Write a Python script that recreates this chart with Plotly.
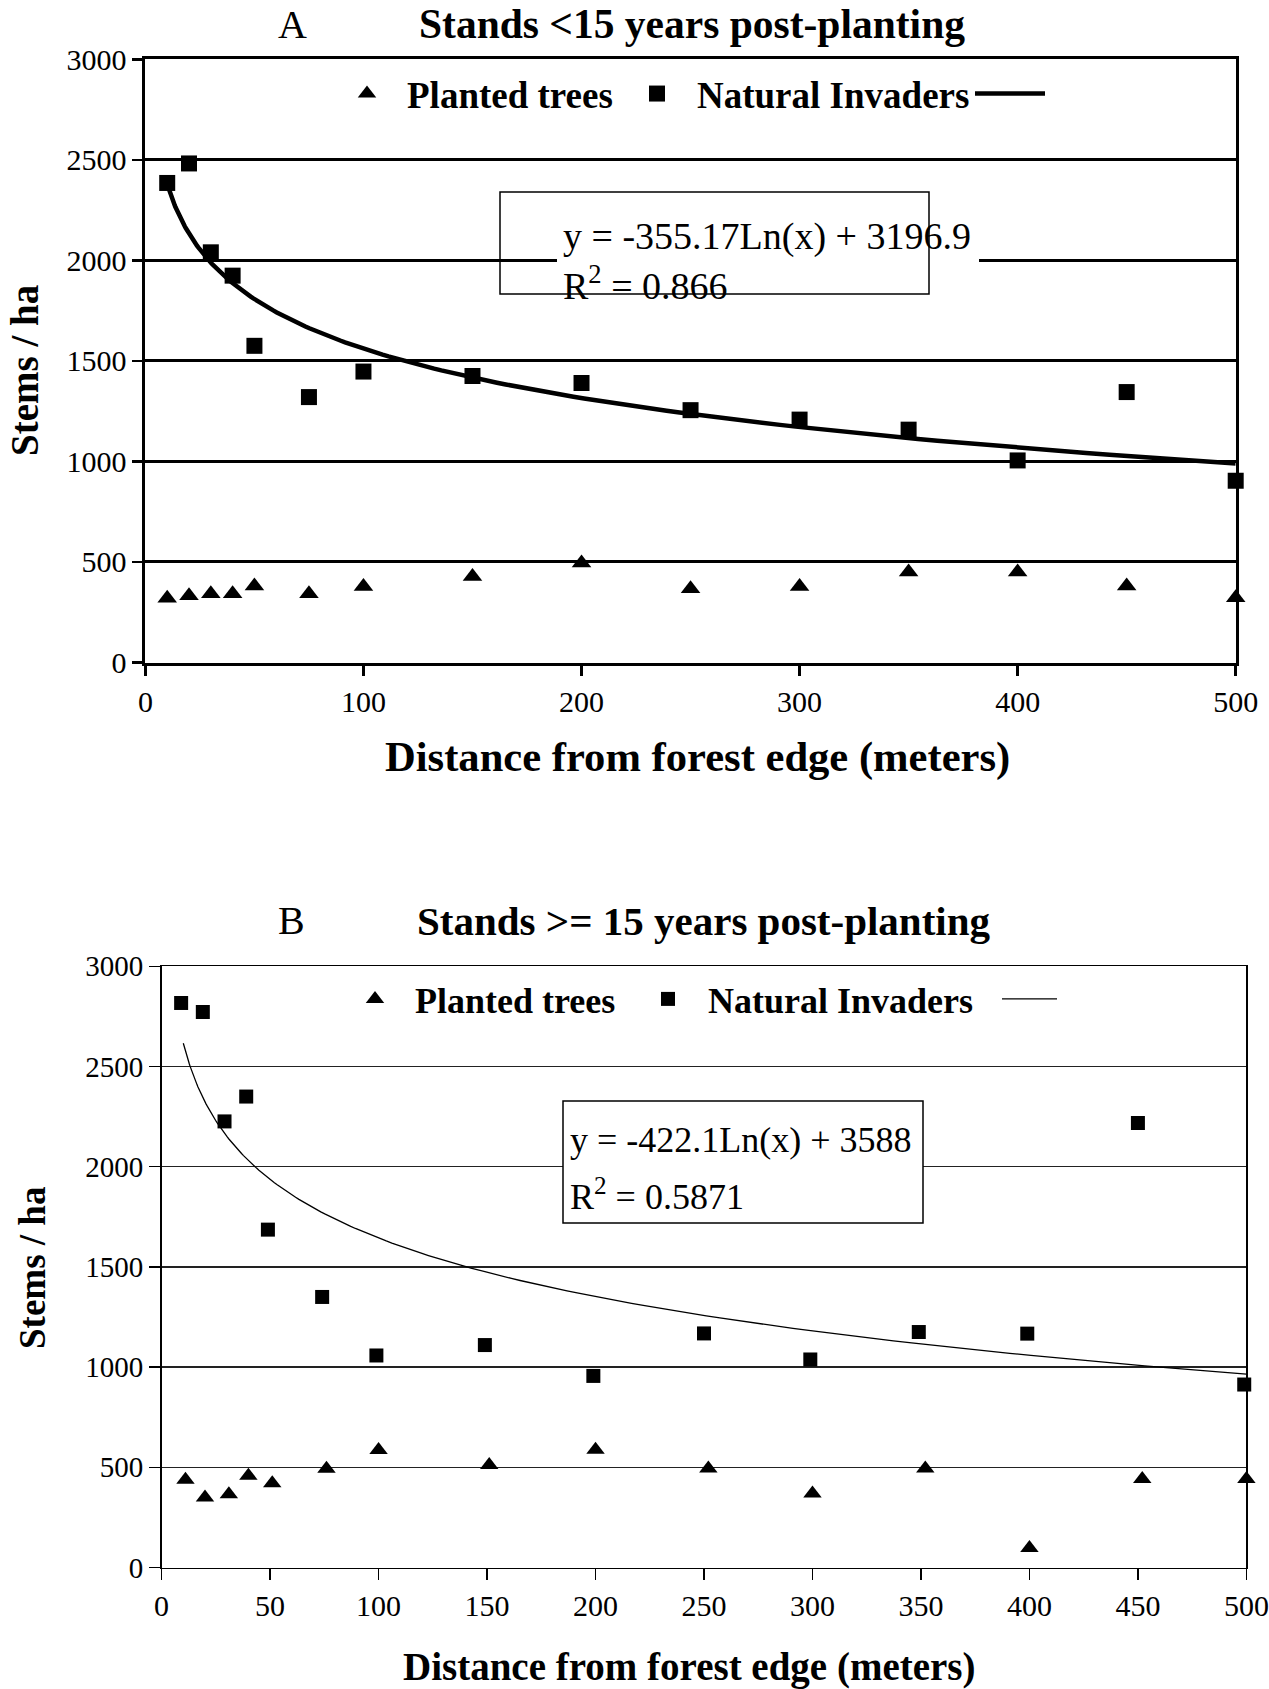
import numpy as np
import plotly.graph_objects as go

# ---------------- data ----------------
dist_a = [10, 20, 30, 40, 50, 75, 100, 150, 200, 250, 300, 350, 400, 450, 500]
invaders_a = [2385, 2482, 2040, 1924, 1575, 1320, 1447, 1425, 1390, 1255, 1208, 1158, 1005, 1345, 904]
planted_a = [320, 332, 342, 342, 380, 342, 378, 428, 495, 367, 378, 450, 450, 380, 322]

dist_b_inv = [9, 19, 29, 39, 49, 74, 99, 149, 199, 250, 299, 349, 399, 450, 499]
invaders_b = [2817, 2772, 2226, 2350, 1686, 1350, 1058, 1110, 956, 1168, 1038, 1175, 1167, 2218, 913]
dist_b_pl = [11, 20, 31, 40, 51, 76, 100, 151, 200, 252, 300, 352, 400, 452, 500]
planted_b = [438, 349, 366, 458, 420, 493, 586, 512, 587, 494, 369, 494, 97, 441, 441]

# trendline equations shown on the chart: y = slope*Ln(x) + intercept
trend_a_slope, trend_a_intercept = -355.17, 3196.9
trend_b_slope, trend_b_intercept = -422.1, 3588.0
trend_a_label = ["y = -355.17Ln(x) + 3196.9", "R<sup>2</sup> = 0.866"]
trend_b_label = ["y = -422.1Ln(x) + 3588", "R<sup>2</sup> = 0.5871"]

x_ticks_a = [0, 100, 200, 300, 400, 500]
x_ticks_b = [0, 50, 100, 150, 200, 250, 300, 350, 400, 450, 500]
y_ticks = [0, 500, 1000, 1500, 2000, 2500, 3000]

trend_x = np.geomspace(10, 500, 160)
trend_a_y = trend_a_slope * np.log(trend_x) + trend_a_intercept
trend_b_y = trend_b_slope * np.log(trend_x) + trend_b_intercept

# ---------------- geometry helpers (page pixels) ----------------
W, H, OFF = 1269, 1689, 0


def fx(x):
    return (x - OFF) / W


def fy(y):
    return 1 - (y - OFF) / H


SERIF = "Liberation Serif"

fig = go.Figure()

# Panel A
fig.add_trace(go.Scatter(x=dist_a, y=planted_a, mode="markers", name="Planted trees",
                         marker=dict(symbol="triangle-up", size=17, color="black"),
                         xaxis="x", yaxis="y", legend="legend", cliponaxis=False))
fig.add_trace(go.Scatter(x=dist_a, y=invaders_a, mode="markers", name="Natural Invaders",
                         marker=dict(symbol="square", size=16, color="black"),
                         xaxis="x", yaxis="y", legend="legend2", cliponaxis=False))
fig.add_trace(go.Scatter(x=trend_x, y=trend_a_y, mode="lines", name="",
                         line=dict(color="black", width=4.5),
                         xaxis="x", yaxis="y", legend="legend3", cliponaxis=False))
# Panel B
fig.add_trace(go.Scatter(x=dist_b_pl, y=planted_b, mode="markers", name="Planted trees",
                         marker=dict(symbol="triangle-up", size=16, color="black"),
                         xaxis="x2", yaxis="y2", legend="legend4", cliponaxis=False))
fig.add_trace(go.Scatter(x=dist_b_inv, y=invaders_b, mode="markers", name="Natural Invaders",
                         marker=dict(symbol="square", size=14, color="black"),
                         xaxis="x2", yaxis="y2", legend="legend5", cliponaxis=False))
fig.add_trace(go.Scatter(x=trend_x, y=trend_b_y, mode="lines", name="",
                         line=dict(color="black", width=1.3),
                         xaxis="x2", yaxis="y2", legend="legend6", cliponaxis=False))

tickfont = dict(family=SERIF, size=30, color="black")

common_x = dict(range=[0, 500], showgrid=False, zeroline=False, showline=True, linecolor="black",
                ticks="outside", tickcolor="black", mirror=True, fixedrange=True, automargin=False)
common_y = dict(range=[0, 3000], tickvals=y_ticks, showgrid=True, gridcolor="black", zeroline=False,
                showline=True, linecolor="black", ticks="outside", tickcolor="black",
                mirror=True, fixedrange=True, automargin=False)


def legend_at(x, y, size, itemwidth=70):
    return dict(orientation="h", x=fx(x), xanchor="left", y=fy(y), yanchor="middle",
                font=dict(family=SERIF, size=size, color="black", weight="bold"),
                bgcolor="rgba(0,0,0,0)", borderwidth=0, itemwidth=itemwidth)


fig.update_layout(
    template="none",
    width=W, height=H, margin=dict(l=0, r=0, t=0, b=0, pad=0, autoexpand=False),
    paper_bgcolor="white", plot_bgcolor="rgba(0,0,0,0)",
    font=dict(family=SERIF, color="black"),
    xaxis=dict(common_x, domain=[fx(145.4), fx(1235.7)], anchor="y", tickvals=x_ticks_a,
               linewidth=3, tickwidth=2.5, ticklen=10, tickfont=dict(tickfont)),
    yaxis=dict(common_y, domain=[fy(662.5), fy(59.3)], anchor="x", gridwidth=3,
               linewidth=3, tickwidth=2.5, ticklen=10, tickfont=dict(tickfont)),
    xaxis2=dict(common_x, domain=[fx(161.6), fx(1246.4)], anchor="y2", tickvals=x_ticks_b,
                linewidth=1.5, tickwidth=1.5, ticklen=11, tickfont=dict(tickfont)),
    yaxis2=dict(common_y, domain=[fy(1567.5), fy(966.3)], anchor="x2", gridwidth=1.5,
                gridcolor="#222", linewidth=1.5, tickwidth=1.5, ticklen=11,
                tickfont=dict(family=SERIF, size=29, color="black")),
    legend=legend_at(327, 94, 37),
    legend2=legend_at(617, 94, 37),
    legend3=legend_at(970, 94, 37),
    legend4=legend_at(335, 999, 36),
    legend5=legend_at(628, 999, 36),
    legend6=legend_at(997, 999, 36, itemwidth=55),
    showlegend=True,
)

shapes = [
    # panel A equation box (mask over the gridline behind the text, then the frame)
    dict(type="rect", xref="paper", yref="y", x0=fx(557), x1=fx(979), y0=1975, y1=2025,
         fillcolor="white", line=dict(width=0), layer="above"),
    dict(type="rect", xref="paper", yref="paper", x0=fx(500), x1=fx(929), y0=fy(294), y1=fy(192),
         fillcolor="rgba(0,0,0,0)", line=dict(color="black", width=1.5), layer="above"),
    # panel B equation box
    dict(type="rect", xref="paper", yref="paper", x0=fx(563), x1=fx(923), y0=fy(1223), y1=fy(1101),
         fillcolor="white", line=dict(color="black", width=1.5), layer="above"),
]
fig.update_layout(shapes=shapes)

ann = []


def text(t, x, y, size, bold=False, xanchor="center", angle=0):
    ann.append(dict(text=t, x=fx(x), y=fy(y), xref="paper", yref="paper", showarrow=False,
                    xanchor=xanchor, yanchor="middle", textangle=angle, borderpad=0,
                    font=dict(family=SERIF, size=size, color="black",
                              weight="bold" if bold else "normal")))


text("A", 292, 24, 40)
text("Stands <15 years post-planting", 692, 24, 41.5, bold=True)
text("Distance from forest edge (meters)", 697, 757, 42.6, bold=True)
text("Stems / ha", 25, 371, 39, bold=True, angle=-90)
text(trend_a_label[0], 562, 237, 38, xanchor="left")
text(trend_a_label[1], 562, 283, 38, xanchor="left")

text("B", 291, 920, 40)
text("Stands >= 15 years post-planting", 703, 921, 41, bold=True)
text("Distance from forest edge (meters)", 689, 1667, 39, bold=True)
text("Stems / ha", 32, 1268, 37, bold=True, angle=-90)
text(trend_b_label[0], 569, 1140, 36, xanchor="left")
text(trend_b_label[1], 569, 1194, 36, xanchor="left")

fig.update_layout(annotations=ann)

fig.write_html("out.html", config={"displayModeBar": False, "staticPlot": True},
               post_script="document.body.style.margin='0px';document.body.style.padding='0px';")
